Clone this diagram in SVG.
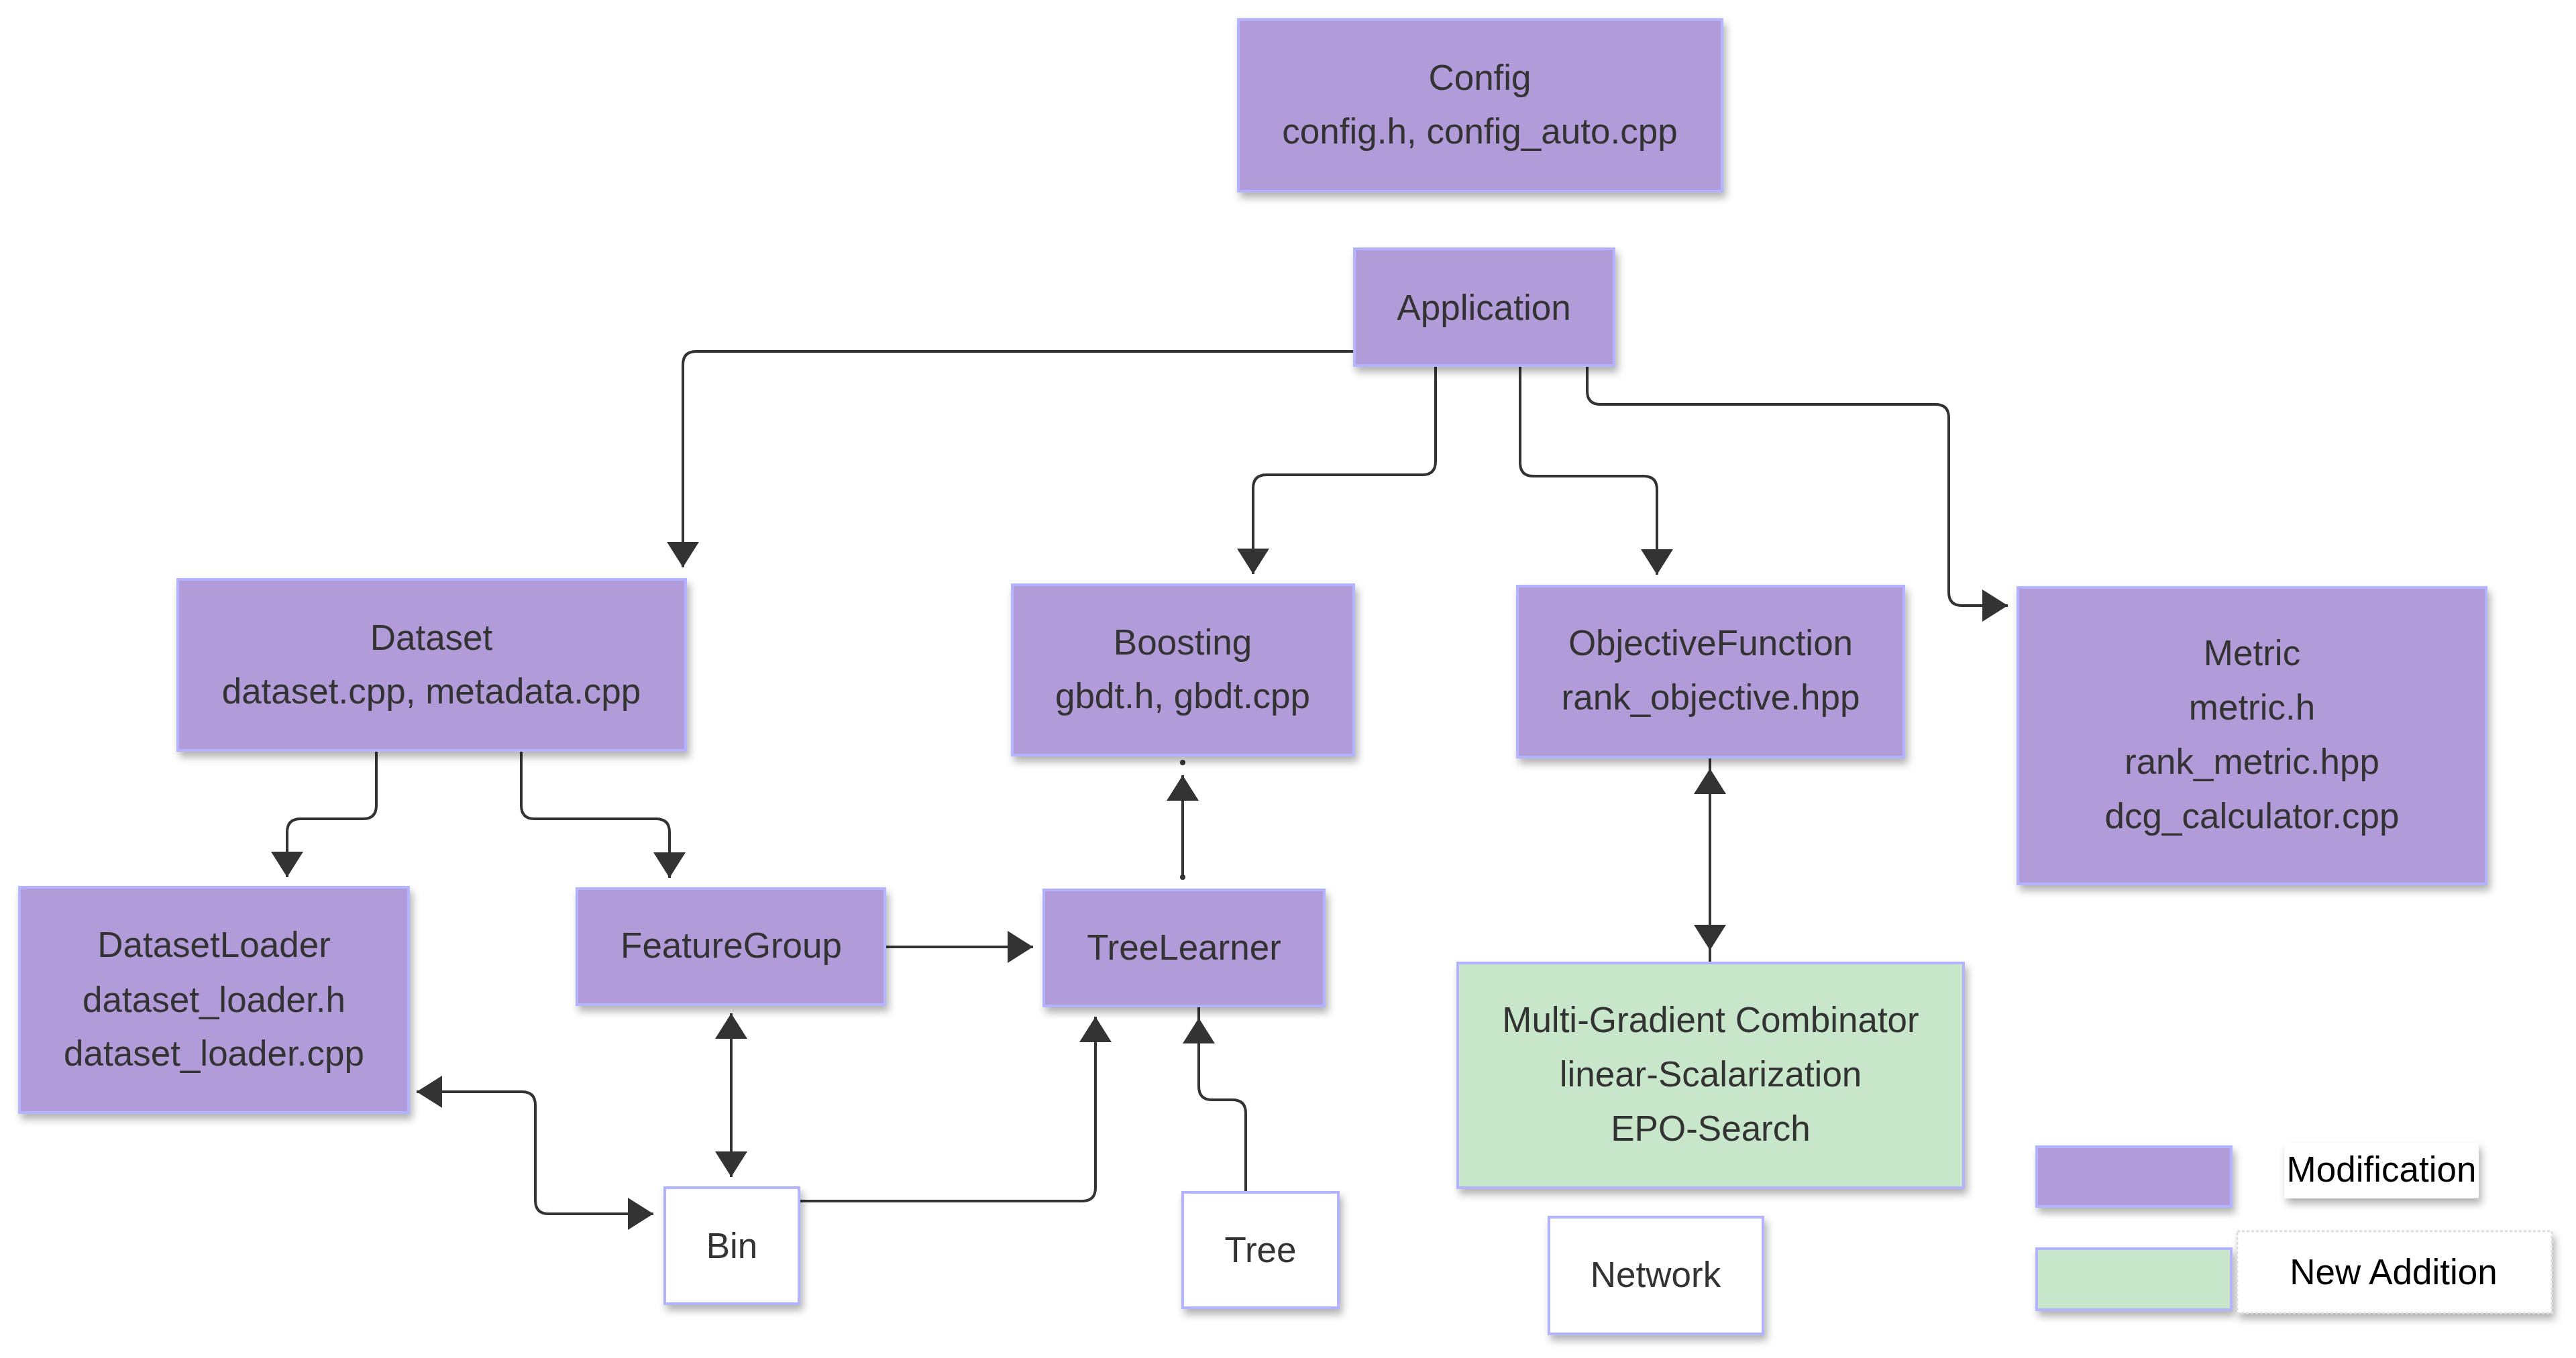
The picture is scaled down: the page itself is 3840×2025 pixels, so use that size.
<svg xmlns="http://www.w3.org/2000/svg" width="3840" height="2025" viewBox="0 0 3840 2025">
<defs>
<filter id="sh" x="-10%" y="-10%" width="125%" height="130%">
<feDropShadow dx="4" dy="8" stdDeviation="6" flood-color="#000" flood-opacity="0.3"/>
</filter>
<marker id="ah" markerUnits="userSpaceOnUse" viewBox="0 0 38 48" markerWidth="38" markerHeight="48" refX="38" refY="24" orient="auto-start-reverse">
<path d="M0,0 L38,24 L0,48 z" fill="#333"/>
</marker>
</defs>
<style>
.n{stroke:#b3b3ff;stroke-width:4;filter:url(#sh)}
.p{fill:#b19cd9}
.g{fill:#c8e6c9}
.w{fill:#ffffff}
text{font-family:"Liberation Sans",Arial,sans-serif;font-size:53px;fill:#333;text-anchor:middle}
.lg{fill:#000}
.e{fill:none;stroke:#333;stroke-width:4}
</style>
<rect width="3840" height="2025" fill="#ffffff"/>
<g id="connectors">
<path class="e" d="M2019,524 H1038 Q1018,524 1018,544 V846" marker-end="url(#ah)"/>
<path class="e" d="M2140,545 V688 Q2140,708 2120,708 H1888 Q1868,708 1868,728 V856" marker-end="url(#ah)"/>
<path class="e" d="M2266,545 V690 Q2266,710 2286,710 H2450 Q2470,710 2470,730 V857" marker-end="url(#ah)"/>
<path class="e" d="M2366,545 V583 Q2366,603 2386,603 H2885 Q2905,603 2905,623 V883 Q2905,903 2925,903 H2993" marker-end="url(#ah)"/>
<path class="e" d="M561,1119 V1201 Q561,1221 541,1221 H448 Q428,1221 428,1241 V1308" marker-end="url(#ah)"/>
<path class="e" d="M777,1119 V1201 Q777,1221 797,1221 H978 Q998,1221 998,1241 V1309" marker-end="url(#ah)"/>
<path class="e" d="M1319,1412 H1540" marker-end="url(#ah)"/>
<path class="e" d="M1763,1308 V1156" marker-end="url(#ah)"/>
<circle cx="1763" cy="1308" r="4" fill="#333"/>
<circle cx="1763" cy="1137" r="4" fill="#333"/>
<path class="e" d="M1090,1511 V1755" marker-start="url(#ah)" marker-end="url(#ah)"/>
<path class="e" d="M1191,1791 H1613 Q1633,1791 1633,1771 V1516" marker-end="url(#ah)"/>
<path class="e" d="M1857,1778 V1660 Q1857,1640 1837,1640 H1807 Q1787,1640 1787,1620 V1518" marker-end="url(#ah)"/>
<path class="e" d="M1787,1518 V1500"/>
<path class="e" d="M621,1628 H778 Q798,1628 798,1648 V1790 Q798,1810 818,1810 H974" marker-start="url(#ah)" marker-end="url(#ah)"/>
<path class="e" d="M2549,1146 V1417" marker-start="url(#ah)" marker-end="url(#ah)"/>
<path class="e" d="M2549,1129 V1146 M2549,1417 V1436"/>
</g>
<g id="config"><rect class="n p" x="1846" y="29" width="721" height="256"/><text x="2206" y="134">Config</text><text x="2206" y="214">config.h, config_auto.cpp</text></g>
<g id="application"><rect class="n p" x="2019" y="371" width="387" height="174"/><text x="2212" y="477">Application</text></g>
<g id="dataset"><rect class="n p" x="265" y="864" width="757" height="255"/><text x="643" y="969">Dataset</text><text x="643" y="1049">dataset.cpp, metadata.cpp</text></g>
<g id="boosting"><rect class="n p" x="1509" y="872" width="509" height="254"/><text x="1763" y="976">Boosting</text><text x="1763" y="1056">gbdt.h, gbdt.cpp</text></g>
<g id="objective"><rect class="n p" x="2262" y="874" width="576" height="255"/><text x="2550" y="977">ObjectiveFunction</text><text x="2550" y="1058">rank_objective.hpp</text></g>
<g id="metric"><rect class="n p" x="3008" y="876" width="698" height="442"/><text x="3357" y="992">Metric</text><text x="3357" y="1073">metric.h</text><text x="3357" y="1154">rank_metric.hpp</text><text x="3357" y="1235">dcg_calculator.cpp</text></g>
<g id="datasetloader"><rect class="n p" x="29" y="1323" width="580" height="336"/><text x="319" y="1427">DatasetLoader</text><text x="319" y="1509">dataset_loader.h</text><text x="319" y="1589">dataset_loader.cpp</text></g>
<g id="featuregroup"><rect class="n p" x="860" y="1325" width="459" height="173"/><text x="1090" y="1428">FeatureGroup</text></g>
<g id="treelearner"><rect class="n p" x="1556" y="1327" width="418" height="173"/><text x="1765" y="1431">TreeLearner</text></g>
<g id="bin"><rect class="n w" x="991" y="1771" width="200" height="173"/><text x="1091" y="1876">Bin</text></g>
<g id="tree"><rect class="n w" x="1763" y="1778" width="232" height="172"/><text x="1879" y="1882">Tree</text></g>
<g id="mgc"><rect class="n g" x="2173" y="1436" width="754" height="335"/><text x="2550" y="1539">Multi-Gradient Combinator</text><text x="2550" y="1620">linear-Scalarization</text><text x="2550" y="1701">EPO-Search</text></g>
<g id="network"><rect class="n w" x="2309" y="1815" width="319" height="174"/><text x="2468" y="1919">Network</text></g>
<g id="legend-modification"><rect class="n p" x="3036" y="1710" width="290" height="89"/><rect x="3405" y="1704" width="290" height="83" fill="#fff" filter="url(#sh)"/><text class="lg" x="3550" y="1762">Modification</text></g>
<g id="legend-new"><rect class="n g" x="3036" y="1862" width="290" height="91"/><rect x="3335" y="1836" width="469" height="122" fill="#fff" stroke="#dddddd" stroke-width="3" stroke-dasharray="4,3" filter="url(#sh)"/><text class="lg" x="3568" y="1915">New Addition</text></g>
</svg>
